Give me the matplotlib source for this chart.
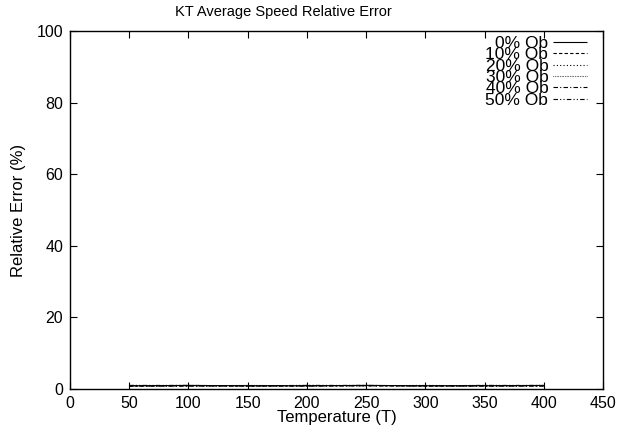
"""KT average speed relative error, gnuplot-like line chart."""

import matplotlib

matplotlib.use("Agg")
import matplotlib.pyplot as plt

temperatures = [50, 100, 150, 200, 250, 300, 350, 400]
err_0 = [0.9, 1.0, 0.9, 0.9, 1.0, 0.9, 0.9, 1.0]
err_10 = [0.8, 0.9, 0.8, 0.9, 0.9, 0.8, 0.9, 0.9]
err_20 = [1.0, 0.9, 0.9, 1.0, 0.9, 1.0, 0.9, 0.9]
err_30 = [0.9, 0.9, 1.0, 0.9, 1.0, 0.9, 1.0, 0.9]
err_40 = [0.8, 0.8, 0.9, 0.8, 0.9, 0.9, 0.8, 0.8]
err_50 = [1.0, 1.0, 0.9, 1.0, 1.0, 0.9, 1.0, 1.0]
series_labels = ["0% Ob", "10% Ob", "20% Ob", "30% Ob", "40% Ob", "50% Ob"]
x_ticks = [0, 50, 100, 150, 200, 250, 300, 350, 400, 450]
y_ticks = [0, 20, 40, 60, 80, 100]

plt.rcParams["font.family"] = ["Liberation Sans", "DejaVu Sans"]

W, H = 618, 428
fig = plt.figure(figsize=(W / 100, H / 100), dpi=100)
ax = fig.add_axes([70 / W, 1 - 389 / H, 533 / W, 358 / H])

styles = [
    (0, ()),
    (0, (3, 2)),
    (0, (1, 2)),
    (0, (0.5, 1)),
    (0, (4, 2, 1, 2)),
    (0, (4, 2, 1, 2, 1, 2)),
]
all_errors = [err_0, err_10, err_20, err_30, err_40, err_50]
for label, errs, ls in zip(series_labels, all_errors, styles):
    ax.plot(temperatures, errs, color="black", linewidth=0.8, linestyle=ls, label=label)

ax.set_xlim(0, 450)
ax.set_ylim(0, 100)
ax.set_xticks(x_ticks)
ax.set_yticks(y_ticks)
ax.tick_params(direction="in", length=5, width=0.8, top=True, right=True, labelsize=11.5, pad=5)
for spine in ax.spines.values():
    spine.set_linewidth(1.0)

fig.text(283 / W, 1 - 12 / H, "KT Average Speed Relative Error", fontsize=10.5, ha="center", va="center")
ax.set_xlabel("Temperature (T)", fontsize=12, labelpad=-1)
ax.yaxis.set_label_coords(-51 / 533, 0.5)
ax.set_ylabel("Relative Error (%)", fontsize=12, va="center")

ax.legend(
    loc="upper right",
    bbox_to_anchor=(1.0, 1.03),
    frameon=False,
    markerfirst=False,
    fontsize=12.5,
    labelspacing=-0.22,
    handlelength=2.0,
    handletextpad=0.25,
    borderaxespad=0.5,
)

fig.savefig("out.png", dpi=100)
